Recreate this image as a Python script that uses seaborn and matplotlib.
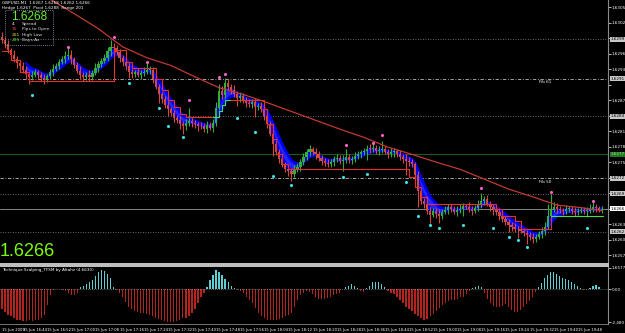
import numpy as np
import pandas as pd
import matplotlib
matplotlib.use("Agg")
import matplotlib.pyplot as plt
import seaborn as sns

## GBPUSD M1, prices in pips above 1.6200 (bar 0 = 15 Jun 16:37)
closes = [
    98.7, 97.8, 96.6, 95.8, 95.0, 94.1, 93.5, 92.9, 92.0, 91.4,
    91.9, 92.4, 91.9, 91.2, 91.0, 91.6, 92.5, 93.1, 93.6, 94.4,
    94.9, 95.5, 95.8, 94.9, 93.8, 92.7, 91.9, 91.5, 91.9, 91.4,
    92.3, 93.3, 94.0, 94.6, 95.2, 96.4, 97.3, 97.0, 96.3, 95.2,
    94.4, 93.5, 92.5, 92.1, 92.4, 91.9, 92.2, 92.5, 92.8, 92.9,
    91.0, 89.6, 88.1, 87.2, 86.0, 85.2, 84.5, 83.6, 83.1, 82.4,
    81.9, 82.5, 82.9, 82.6, 82.3, 82.0, 81.9, 81.5, 82.1, 81.7,
    82.5, 85.5, 88.8, 88.0, 90.3, 89.5, 89.0, 88.2, 87.5, 87.8,
    87.1, 86.5, 86.2, 86.6, 85.6, 85.9, 85.2, 84.0, 82.3, 80.5,
    78.5, 77.0, 75.6, 74.5, 73.7, 73.2, 72.7, 73.5, 74.1, 75.0,
    76.0, 76.9, 77.5, 77.0, 76.6, 75.8, 75.2, 74.9, 74.6, 75.1,
    75.6, 75.8, 75.2, 75.5, 76.0, 75.4, 75.6, 76.2, 76.6, 76.9,
    77.1, 77.6, 77.5, 77.8, 77.1, 77.3, 77.5, 77.0, 76.6, 76.9,
    77.1, 76.5, 76.0, 75.6, 75.2, 75.0, 74.6, 72.5, 69.5, 67.5,
    67.0, 65.5, 64.8, 65.6, 65.0, 64.6, 65.4, 65.8, 66.4, 66.0,
    65.4, 65.7, 66.0, 66.5, 66.4, 66.0, 65.6, 66.2, 66.9, 67.4,
    67.9, 67.0, 66.4, 65.9, 65.4, 64.6, 64.0, 63.4, 62.9, 62.5,
    62.1, 62.0, 61.7, 61.3, 60.9, 60.5, 60.2, 60.6, 61.1, 61.6,
    62.5, 64.5, 66.0, 66.3, 66.0, 65.7, 65.6, 65.9, 66.0, 65.6,
    65.4, 65.6, 65.8, 65.5, 65.6, 66.0, 66.4, 66.1, 65.8, 66.0,
]
first_open = 99.3

# wick lengths, tenths of a pip
up_wick = [
    8, 6, 9, 5, 8, 6, 5, 9, 6, 5, 8, 6, 5, 6, 9, 5, 6, 8, 5, 6,
    6, 9, 12, 8, 5, 6, 8, 5, 6, 9, 5, 8, 6, 5, 8, 9, 13, 8, 6, 5,
    6, 5, 8, 6, 5, 8, 6, 9, 13, 6, 5, 8, 6, 5, 6, 8, 5, 6, 5, 8,
    6, 9, 26, 8, 6, 5, 8, 6, 9, 6, 8, 12, 14, 9, 10, 8, 6, 9, 5, 8,
    6, 5, 8, 6, 9, 5, 8, 6, 5, 6, 8, 6, 5, 8, 6, 5, 6, 9, 8, 6,
    8, 6, 9, 5, 8, 6, 5, 6, 8, 6, 5, 8, 6, 9, 16, 6, 5, 8, 6, 5,
    6, 8, 9, 13, 6, 8, 16, 6, 5, 8, 6, 5, 8, 6, 9, 8, 6, 5, 8, 6,
    5, 6, 8, 5, 6, 9, 5, 8, 6, 5, 6, 8, 9, 6, 5, 8, 6, 5, 8, 16,
    6, 8, 5, 6, 5, 8, 6, 5, 6, 5, 8, 6, 5, 6, 5, 6, 8, 5, 6, 8,
    9, 24, 28, 9, 8, 6, 5, 8, 6, 5, 8, 6, 5, 6, 8, 9, 13, 6, 5, 6,
]
dn_wick = [
    6, 8, 5, 9, 6, 8, 5, 6, 9, 12, 6, 5, 8, 6, 9, 5, 6, 8, 5, 6,
    5, 8, 6, 9, 6, 5, 8, 9, 6, 8, 6, 5, 8, 6, 5, 6, 8, 5, 6, 9,
    8, 6, 12, 8, 6, 5, 9, 6, 5, 8, 6, 5, 16, 8, 6, 13, 5, 8, 6, 9,
    14, 6, 5, 8, 6, 9, 5, 6, 8, 5, 9, 6, 5, 8, 6, 5, 8, 6, 16, 8,
    6, 9, 5, 8, 18, 6, 5, 8, 6, 5, 24, 6, 8, 5, 6, 9, 14, 6, 5, 8,
    6, 5, 8, 6, 9, 5, 8, 6, 5, 6, 8, 6, 5, 20, 6, 5, 8, 6, 5, 8,
    6, 16, 8, 6, 5, 8, 6, 5, 8, 6, 9, 5, 6, 8, 26, 8, 6, 5, 32, 6,
    8, 6, 16, 5, 8, 14, 6, 5, 8, 6, 5, 8, 6, 14, 5, 6, 8, 5, 6, 8,
    6, 5, 8, 12, 6, 8, 5, 6, 14, 8, 6, 16, 5, 6, 18, 5, 8, 6, 5, 8,
    6, 5, 8, 6, 9, 5, 8, 6, 5, 6, 8, 6, 5, 6, 12, 5, 6, 8, 5, 6,
]

# long moving average (red line)
sma_idx = [0, 8, 16, 24, 32, 40, 48, 56, 64, 72, 80, 88, 96, 104, 112,
           120, 128, 136, 144, 152, 160, 168, 176, 184, 192, 199]
sma_val = [111.2, 108.9, 106.5, 103.7, 100.8, 97.3, 95.2, 93.7, 91.5, 89.4,
           88.1, 86.5, 84.8, 83.1, 81.4, 79.8, 77.9, 76.5, 75.0, 73.6,
           71.7, 69.8, 68.3, 66.7, 66.2, 65.6]

# trailing step line: change points, level, green when up-trend
step_idx = [0, 3, 6, 9, 37, 41, 43, 51, 53, 55, 57, 59, 61, 70, 72, 73, 74,
            76, 87, 88, 90, 91, 93, 95, 135, 137, 139, 141, 164, 166, 170, 172, 182]
step_val = [96.4, 94.8, 92.5, 90.6, 96.7, 94.4, 93.3, 91.0, 89.0, 87.1, 85.6,
            84.4, 83.7, 83.7, 84.8, 86.0, 87.1, 87.1, 85.2, 82.3, 79.4, 76.5,
            74.6, 73.7, 72.1, 70.2, 68.3, 66.9, 66.0, 64.6, 63.7, 62.1, 64.6]
step_up = [0, 0, 0, 0, 0, 0, 0, 0, 0, 0, 0, 0, 0, 1, 1, 1, 1,
           0, 0, 0, 0, 0, 0, 0, 0, 0, 0, 0, 0, 0, 0, 0, 1]

# fractals
pink_idx = [22, 37, 48, 62, 72, 74, 114, 123, 126, 159, 182, 196]
pink_val = [97.3, 99.2, 94.4, 87.1, 91.4, 92.1, 78.3, 78.7, 80.2, 70.0, 69.2, 67.5]
cyan_idx = [10, 42, 52, 55, 60, 78, 84, 90, 96, 113, 121, 134, 138, 142, 145,
            153, 163, 168, 171, 174, 194]
cyan_val = [87.9, 90.4, 85.4, 81.9, 79.8, 83.6, 80.8, 72.3, 70.6, 72.1, 72.7,
            71.1, 64.6, 62.9, 62.3, 62.9, 62.3, 60.6, 60.0, 58.6, 62.3]

dotted_levels = [98.8, 83.85, 68.85, 61.55]
fib_levels = [91.16, 71.93]
fib_names = ["Fib 61", "Fib 50"]
green_level = 76.54
bid = 66.0

# Technique Scalping histogram
hist = [
    -1.5, -1.7, -1.9, -2.0, -2.2, -2.3, -2.35, -2.4, -2.4, -2.35,
    -2.4, -2.35, -2.3, -2.2, -1.9, -1.2, -0.4, -0.05, 0.03, 0.03,
    -0.05, -0.1, -0.25, -0.4, -0.45, -0.3, 0.15, 0.3, 0.45, 0.55,
    0.7, 1.05, 1.3, 1.45, 1.4, 1.2, 0.85, 0.2, -0.05, -0.3,
    -0.6, -0.95, -1.3, -1.5, -1.6, -1.7, -1.75, -1.75, -1.85, -1.95,
    -2.05, -2.15, -2.25, -2.3, -2.4, -2.5, -2.5, -2.45, -2.4, -2.3,
    -2.2, -2.15, -2.0, -1.8, -1.5, -1.05, -0.6, -0.25, 0.2, 0.7,
    1.1, 1.45, 1.35, 1.1, 0.8, 0.55, 0.3, 0.1, -0.05, -0.15,
    -0.3, -0.55, -0.8, -1.05, -1.4, -1.8, -2.05, -2.2, -2.3, -2.35,
    -2.3, -2.3, -2.25, -2.15, -2.0, -1.9, -1.8, -1.3, -0.8, -0.45,
    -0.25, -0.15, -0.2, -0.35, -0.55, -0.7, -0.75, -0.7, -0.65, -0.55,
    -0.45, -0.35, -0.25, 0.05, 0.2, 0.3, 0.4, 0.3, 0.1, -0.15,
    -0.2, 0.1, 0.3, 0.55, 0.6, 0.6, 0.45, 0.2, -0.15, -0.3,
    -0.35, -0.55, -0.8, -1.05, -1.3, -1.45, -1.65, -1.85, -2.05, -2.2,
    -2.3, -2.25, -2.05, -1.85, -1.6, -1.4, -1.15, -1.0, -0.9, -0.8,
    -0.8, -0.7, -0.6, -0.55, -0.35, -0.15, 0.1, 0.2, 0.25, 0.15,
    -0.3, -0.75, -1.0, -1.25, -1.35, -1.3, -1.25, -1.1, -1.3, -1.55,
    -1.7, -1.72, -1.55, -1.35, -1.1, -0.85, -0.55, -0.2, 0.2, 0.5,
    0.85, 1.1, 1.3, 1.35, 1.2, 1.05, 0.9, 0.8, 0.7, 0.55,
    0.4, 0.25, 0.1, -0.05, -0.05, 0.1, 0.3, 0.32, 0.22, 0.05,
]

times = ["16:44", "16:52", "17:00", "17:08", "17:16", "17:24", "17:32", "17:40",
         "17:48", "17:56", "18:04", "18:12", "18:20", "18:28", "18:36", "18:44",
         "18:52", "19:00", "19:08", "19:16", "19:24", "19:32", "19:40", "19:48"]

BULL = '#33b033'
BEAR = '#d24a3e'
W, H = 625, 333

sns.set_theme(style="dark", rc={"axes.facecolor": "black", "figure.facecolor": "black"})
plt.rcParams['font.family'] = ['DejaVu Sans']

c = np.array(closes)
o = np.r_[first_open, c[:-1]]
hi = np.maximum(o, c) + np.array(up_wick) / 10
lo = np.minimum(o, c) - np.array(dn_wick) / 10
bull = c >= o
x = np.arange(len(c))
cols = np.where(bull, BULL, BEAR)

fig = plt.figure(figsize=(6.25, 3.33), dpi=100)
ax = fig.add_axes([0, 69 / H, 608 / W, 264 / H])
ax2 = fig.add_axes([0, 9 / H, 608 / W, 58 / H])
for a in (ax, ax2):
    a.set_facecolor('black')
    a.set_xlim(-0.66, 201.0)
    for s in a.spines.values():
        s.set_visible(False)
    a.spines['right'].set_visible(True)
    a.spines['right'].set_color('#8a8a8a')
    a.spines['right'].set_linewidth(0.8)
    a.grid(False)

ax.set_ylim(55.3, 106.36)

# horizontal levels
for v in dotted_levels:
    ax.axhline(v, color='#8c8c8c', lw=0.6, ls=(0, (1, 2)), zorder=1)
for v, name in zip(fib_levels, fib_names):
    ax.axhline(v, color='#bdbdbd', lw=0.6, ls=(0, (4, 2, 1, 2)), zorder=1)
    ax.text(178, v - 0.35, name, color='white', fontsize=3, va='top', zorder=6)
ax.axhline(green_level, color='#1d5a1d', lw=0.8, zorder=1)
ax.axhline(bid, color='#9a9a9a', lw=0.6, zorder=1)

# blue ribbon (behind the bars)
fast = pd.Series(c).ewm(span=3, adjust=False).mean().values
slow = pd.Series(c).ewm(span=7, adjust=False).mean().values
m = x >= 8
ax.fill_between(x[m], fast[m], slow[m], color='#2424ff', lw=0, zorder=2)
ax.plot(x[m], fast[m], color='#0000f0', lw=2.0, zorder=2)
ax.plot(x[m], slow[m], color='#0000f0', lw=2.0, zorder=2)

# candles
ax.vlines(x, lo, hi, colors=cols, lw=0.8, zorder=3)
body = np.maximum(np.abs(c - o), 0.15)
ax.bar(x, body, bottom=np.minimum(o, c), width=0.72, color=cols, linewidth=0, zorder=3)

# step line
n = len(step_idx)
for k in range(n):
    end = step_idx[k + 1] if k + 1 < n else x[-1] + 0.5
    nxt = step_val[k + 1] if k + 1 < n else step_val[k]
    col = '#44e044' if step_up[k] else '#e8302a'
    ax.plot([step_idx[k], end, end], [step_val[k], step_val[k], nxt], color=col, lw=0.8, zorder=5)

# long MA
sns.lineplot(x=sma_idx, y=sma_val, ax=ax, color='#c23a30', lw=0.9, zorder=5)

# fractals
ax.scatter(pink_idx, pink_val, s=5, color='#ff5fc8', lw=0, zorder=6)
ax.scatter(cyan_idx, cyan_val, s=5, color='#3de0e6', lw=0, zorder=6)

# right price scale
marks = [(98.8, '#c8c8c8', 'black'), (91.16, '#c8c8c8', 'black'),
         (83.85, '#c8c8c8', 'black'), (green_level, '#1f7a1f', '#9fe09f'),
         (71.93, '#c8c8c8', 'black'), (68.85, '#c8c8c8', 'black'),
         (61.55, '#c8c8c8', 'black'), (bid, 'white', 'black')]
ticks = [105 - 3 * k for k in range(17)]
ax.yaxis.tick_right()
ax.set_yticks(ticks)
ax.set_yticklabels([f"{1.62 + t / 1e4:.4f}" if min(abs(t - v) for v, _, _ in marks) > 1.3 else ""
                    for t in ticks])
ax.tick_params(axis='y', colors='white', labelsize=3.0, length=2, width=0.5, pad=0.6)
ax.tick_params(axis='x', bottom=False, labelbottom=False)
for t in ax.get_yticklines():
    t.set_color('#8a8a8a')

for v, fc, tc in marks:
    ax.text(1.004, v, f"{1.62 + v / 1e4:.4f}", transform=ax.get_yaxis_transform(),
            fontsize=3.0, color=tc, va='center', ha='left', clip_on=False, zorder=7,
            bbox=dict(boxstyle='square,pad=0.12', fc=fc, ec='none'))

ax.spines['bottom'].set_visible(True)
ax.spines['bottom'].set_color('#c4c4c4')
ax.spines['bottom'].set_linewidth(1.4)

# lower indicator
hv = np.array(hist)
ax2.bar(x, hv, width=0.4, color=np.where(hv >= 0, '#5ccfd2', '#b3241e'), linewidth=0)
ax2.axhline(0, color='#bcbcbc', lw=0.5, ls=(0, (1, 2)))
ax2.set_ylim(-2.62, 1.78)
ax2.yaxis.tick_right()
ax2.set_yticks([1.6577, 0, -2.48])
ax2.set_yticklabels(['1.6577', '0.00', '-2.480'])
ax2.tick_params(axis='y', colors='white', labelsize=3.0, length=2, width=0.5, pad=0.6)
ax2.spines['top'].set_visible(True)
ax2.spines['top'].set_color('#c4c4c4')
ax2.spines['top'].set_linewidth(1.4)
ax2.spines['bottom'].set_visible(True)
ax2.spines['bottom'].set_color('#8a8a8a')
ax2.spines['bottom'].set_linewidth(0.6)
ax2.text(0.003, 0.97, "Technique Scalping_TFSM by Aftahz (4.6630)", transform=ax2.transAxes,
         color='white', fontsize=3, va='top', ha='left')

xt = [0] + [7 + 8 * k for k in range(len(times))]
ax2.set_xticks(xt)
ax2.set_xticklabels(["15 Jun 2009"] + ["15 Jun " + t for t in times], ha='left')
ax2.tick_params(axis='x', colors='white', labelsize=2.7, length=2, width=0.5, pad=0.8)
for t in ax2.get_xticklines():
    t.set_color('#8a8a8a')

# overlay texts, top left
def px(xp, yp):
    return xp / W, 1 - yp / H

fig.text(*px(2, 3), "GBPUSD,M1  1.6267 1.6268 1.6262 1.6266", color='white', fontsize=3, va='center')
fig.text(*px(2, 7.5), "Hedge 1.6267  Pivot 1.6288  Range 201", color='white', fontsize=3, va='center')
fig.text(*px(11, 16.5), "1.6268", color='#66ee33', fontsize=8.5, family='Liberation Sans', va='center')
rows = [("4", 'white', "Spread"), ("15", '#ff4040', "Pips to Open"),
        ("201", '#f0e040', "High Low"), ("295", '#66ee33', "Days Av")]
for k, (num, cl, lab) in enumerate(rows):
    fig.text(*px(12, 24 + 5.4 * k), num, color=cl, fontsize=3.2, va='center')
    fig.text(*px(22, 24 + 5.4 * k), lab, color='#dddddd', fontsize=3.2, va='center')
fig.patches.append(plt.Rectangle(px(5, 45), 48 / W, 35 / H, transform=fig.transFigure,
                                 fill=False, ec='#9aa6c0', lw=0.6, ls=(0, (1, 1.5))))

fig.text(*px(0, 252), "1.6266", color='#7cfc00', fontsize=13, family='Liberation Sans', va='center')

fig.savefig('out.png', dpi=100, facecolor='black')
